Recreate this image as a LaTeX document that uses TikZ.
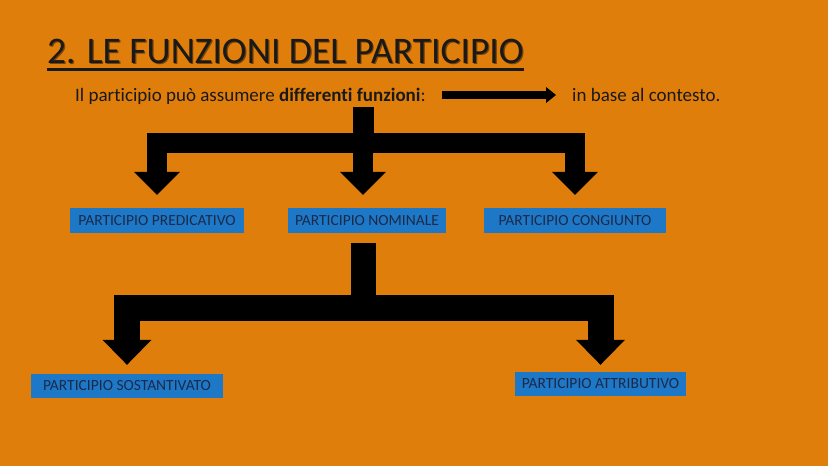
\documentclass[tikz,border=0pt]{standalone}
\usepackage{fontspec}
\setmainfont{Carlito}[Ligatures=NoCommon]
\usetikzlibrary{arrows.meta}
\definecolor{bakgrunn}{HTML}{E07E0B}
\definecolor{boksblaa}{HTML}{1E78C8}
\definecolor{bokstekst}{HTML}{1C2A48}
\definecolor{skygge}{HTML}{7A4408}
\begin{document}
\begin{tikzpicture}[x=1pt,y=-1pt,
		boks/.style={fill=boksblaa, text=bokstekst, inner sep=0pt, minimum height=25pt, font=\fontsize{15.5}{18}\selectfont},
		tekst/.style={inner sep=0pt, text=black!90, font=\fontsize{19}{22}\selectfont, text height=14pt, text depth=2pt},
		tittelfont/.style={inner sep=0pt, anchor=base west, font=\fontsize{37.5}{42}\selectfont},
		stamme1/.style={line width=21pt},
		stamme2/.style={line width=25pt},
		pil1/.style={line width=20pt, -{Triangle[width=46pt,length=23pt,line width=0pt]}},
		pil2/.style={line width=26pt, -{Triangle[width=49pt,length=25pt,line width=0pt]}}]
		% Bakgrunn
		\fill[bakgrunn] (0,0) rectangle (828,466);
		% Tittel med skygge
		\node[tittelfont, text=skygge] at (48.2,64.2) {2. LE FUNZIONI DEL PARTICIPIO};
		\node[tittelfont, text=black!90] (tittel) at (47,63) {2. LE FUNZIONI DEL PARTICIPIO};
		\draw[line width=2.5pt, black!90] ([yshift=-6.5pt]tittel.base west) -- ([yshift=-6.5pt]tittel.base east);
		% Setning og pil
		\node[tekst, anchor=base west] (setning) at (75,101) {Il participio può assumere \textbf{differenti funzioni}:};
		\node[tekst, anchor=base west] (kontekst) at (572,101) {in base al contesto.};
		\draw[line width=8pt, -{Triangle[width=16pt,length=10pt,line width=0pt]}, shorten <=16pt, shorten >=16pt] (setning) -- (kontekst);
		% Bokser
		\node[boks, minimum width=174pt] (predicativo) at (157,220.5) {PARTICIPIO PREDICATIVO};
		\node[boks, minimum width=158pt] (nominale) at (367,220.5) {PARTICIPIO NOMINALE};
		\node[boks, minimum width=182pt] (congiunto) at (575,220.5) {PARTICIPIO CONGIUNTO};
		\node[boks, minimum width=192pt, minimum height=24pt] (sostantivato) at (127,386) {PARTICIPIO SOSTANTIVATO};
		\node[boks, minimum width=171pt, minimum height=24pt] (attributivo) at (600.5,384) {PARTICIPIO ATTRIBUTIVO};
		% Forgreninger
		\coordinate (topp1) at (363,107);
		\coordinate (gren1) at (363,142.5);
		\coordinate (gren2) at (363,307.5);
		% Første nivå
		\draw[stamme1] (topp1) -- (gren1);
		\draw[pil1, shorten >=13pt] (gren1) -| (predicativo);
		\draw[pil1, shorten >=13pt] (gren1) -- (gren1 |- nominale.north);
		\draw[pil1, shorten >=13pt] (gren1) -| (congiunto);
		% Andre nivå
		\draw[stamme2, shorten <=10pt] (gren2 |- nominale.south) -- (gren2);
		\draw[pil2, shorten >=9pt] (gren2) -| (sostantivato);
		\draw[pil2, shorten >=7pt] (gren2) -| (attributivo);
	\end{tikzpicture}
\end{document}
